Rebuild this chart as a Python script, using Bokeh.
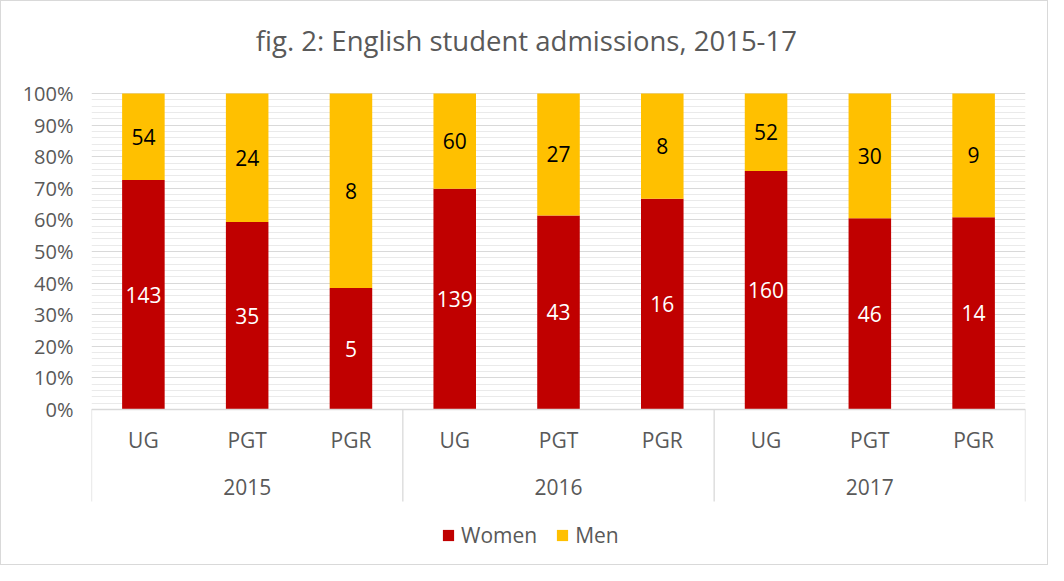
import numpy as np
from bokeh.plotting import figure
from bokeh.models import (ColumnDataSource, Range1d, FixedTicker, NumeralTickFormatter,
                          Legend, LegendItem)
from bokeh.core.properties import value
from bokeh.embed import file_html
from bokeh.resources import INLINE

title_text = "fig. 2: English student admissions, 2015-17"
years = ["2015", "2016", "2017"]
levels = ["UG", "PGT", "PGR"]
women = [143, 35, 5, 139, 43, 16, 160, 46, 14]
men = [54, 24, 8, 60, 27, 8, 52, 30, 9]
y_ticks = [0.0, 0.1, 0.2, 0.3, 0.4, 0.5, 0.6, 0.7, 0.8, 0.9, 1.0]

FONT = "Open Sans"
GREY = "#595959"
RED = "#C00000"
GOLD = "#FFC000"

w = np.array(women, float)
m = np.array(men, float)
tot = w + m
wf = w / tot
xs = np.arange(len(women)) + 0.5

src = ColumnDataSource(dict(
    x=xs, wf=wf, one=np.ones_like(wf),
    wmid=wf / 2, mmid=wf + (1 - wf) / 2,
    wl=[str(v) for v in women], ml=[str(v) for v in men],
    lvl=[levels[i % 3] for i in range(len(women))],
))

W, H = 1048, 565
PX = 316.0  # pixels per 100%
p = figure(width=W, height=H, output_backend="svg", toolbar_location=None,
           x_range=Range1d(0, 9), y_range=Range1d(-156 / PX, 1 + 92 / PX),
           min_border_left=90, min_border_right=24, min_border_top=0, min_border_bottom=1)
p.outline_line_color = None
p.xaxis.visible = False
p.xgrid.visible = False
p.styles = {"border": "1px solid #D9D9D9"}

minor = [round(v, 2) for v in np.arange(0.0, 1.001, 0.02) if round(v * 100) % 10 != 0]
p.ygrid.ticker = FixedTicker(ticks=y_ticks, minor_ticks=minor)
p.ygrid.grid_line_color = "#D9D9D9"
p.ygrid.minor_grid_line_color = "#EAEAEA"

yax = p.yaxis[0]
yax.ticker = FixedTicker(ticks=y_ticks)
yax.formatter = NumeralTickFormatter(format="0%")
yax.axis_line_color = None
yax.major_tick_line_color = None
yax.minor_tick_line_color = None
yax.major_tick_out = 0
yax.major_label_standoff = 18
yax.major_label_text_font = FONT
yax.major_label_text_font_size = "20px"
yax.major_label_text_color = GREY

# bars
rw = p.vbar(x="x", bottom=0, top="wf", width=0.41, source=src, fill_color=RED, line_color=None)
rm = p.vbar(x="x", bottom="wf", top="one", width=0.41, source=src, fill_color=GOLD, line_color=None)

# axis line and group dividers
p.segment(x0=[0], y0=[0], x1=[9], y1=[0], line_color="#D9D9D9", line_width=1.3)
div_x = [0, 3, 6, 9]
p.segment(x0=div_x, y0=[0] * 4, x1=div_x, y1=[-0.2911] * 4, line_color="#D9D9D9", line_width=1.3)

# bar labels
p.text(x="x", y="wmid", text="wl", source=src, text_align="center", text_baseline="middle",
       text_color="white", text_font=value(FONT), text_font_size="21px")
p.text(x="x", y="mmid", text="ml", source=src, text_align="center", text_baseline="middle",
       text_color="black", text_font=value(FONT), text_font_size="21px")

# category labels
p.text(x="x", y=-0.098, text="lvl", source=src, text_align="center", text_baseline="middle",
       text_color=GREY, text_font=value(FONT), text_font_size="21px")
ysrc = ColumnDataSource(dict(x=[1.5, 4.5, 7.5], t=years))
p.text(x="x", y=-0.2437, text="t", source=ysrc, text_align="center", text_baseline="middle",
       text_color=GREY, text_font=value(FONT), text_font_size="21px")

# title
tsrc = ColumnDataSource(dict(x=[4.19], y=[1 + 53 / PX], t=[title_text]))
p.text(x="x", y="y", text="t", source=tsrc, text_align="center", text_baseline="middle",
       text_color=GREY, text_font=value(FONT), text_font_size="27.5px")

legend = Legend(items=[LegendItem(label="Women", renderers=[rw]),
                       LegendItem(label="Men", renderers=[rm])],
                orientation="horizontal", location=(350, 16),
                glyph_width=14, glyph_height=14, label_standoff=6, spacing=18,
                padding=0, margin=0, border_line_color=None, background_fill_alpha=0,
                label_text_font=FONT, label_text_font_size="21px", label_text_color=GREY)
p.add_layout(legend, "center")

open("out.html", "w").write(file_html(p, INLINE))
